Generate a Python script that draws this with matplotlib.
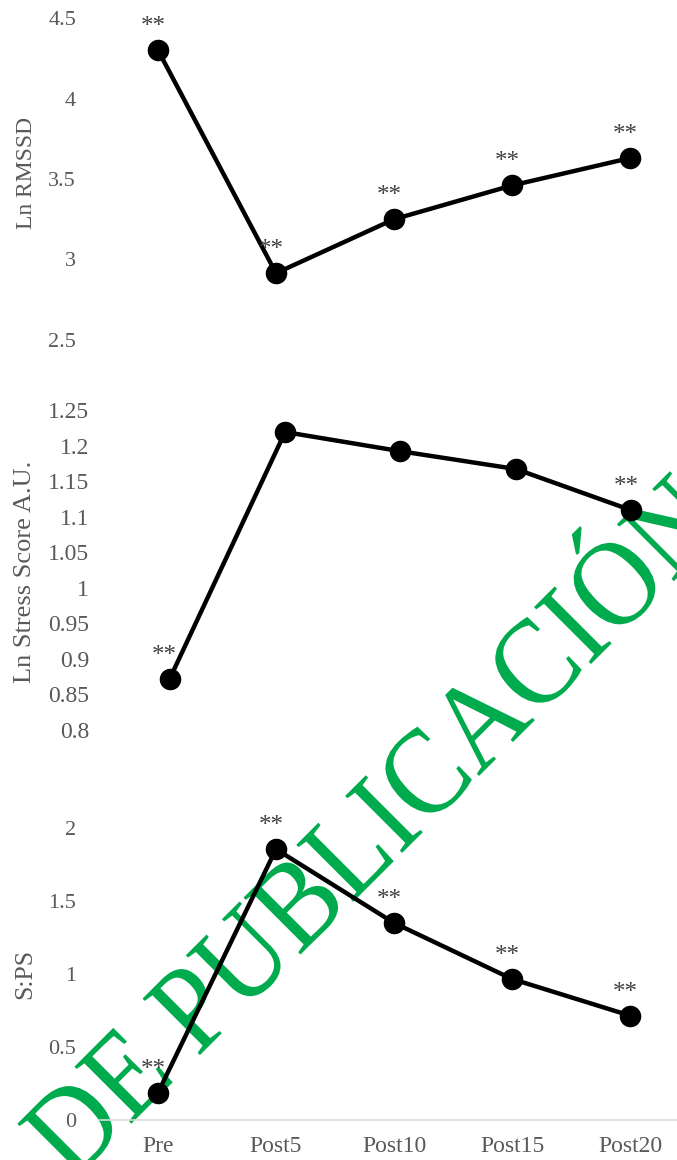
import matplotlib
matplotlib.use("Agg")
import matplotlib.pyplot as plt
from matplotlib.ticker import FuncFormatter, MultipleLocator
from matplotlib.patheffects import AbstractPathEffect
from matplotlib.transforms import Affine2D

# datos
labels = ["Pre", "Post5", "Post10", "Post15", "Post20"]
rmssd = [4.30, 2.915, 3.25, 3.46, 3.63]
stress = [0.872, 1.219, 1.192, 1.167, 1.109]
sps = [0.187, 1.855, 1.35, 0.966, 0.715]
# donde van los asteriscos
rmssd_sig = [True, True, True, True, True]
stress_sig = [True, False, False, False, True]
sps_sig = [True, True, True, True, True]

W, H = 677, 1160
gray = "#595959"
serif = ["Liberation Serif", "DejaVu Serif"]
plt.rcParams["font.family"] = serif


class Stretch(AbstractPathEffect):
    # letras un poco mas altas que anchas, como en la marca original
    def __init__(self, sy):
        super().__init__()
        self.sy = sy

    def draw_path(self, renderer, gc, tpath, affine, rgbFace=None):
        renderer.draw_path(gc, tpath, Affine2D().scale(1, self.sy) + affine, rgbFace)


fig = plt.figure(figsize=(W / 100, H / 100), dpi=100)

# marca de agua detras de las series
bg = fig.add_axes([0, 0, 1, 1], zorder=-1)
bg.axis("off")
bg.text(72 / W, 1 - 1183 / H, "DE PUBLICACIÓN", transform=bg.transAxes,
        rotation=45, rotation_mode="anchor", ha="left", va="baseline",
        fontsize=80.5, color="#00AB4E", family=serif,
        path_effects=[Stretch(1.1)])


def panel(rect, values, sig, ylim, step, ylabel, ylab_xy, ylab_fs, tick_fs,
          show_x=False):
    ax = fig.add_axes(rect)
    ax.patch.set_visible(False)
    x = list(range(len(labels)))
    ax.plot(x, values, color="black", lw=3.2, marker="o", ms=14.5,
            solid_capstyle="round", clip_on=False, zorder=3)
    for i, v in enumerate(values):
        if sig[i]:
            ax.annotate("**", (i, v), xytext=(-5, 17), textcoords="offset pixels",
                        ha="center", va="baseline", fontsize=18, color="#404040")
    ax.set_xlim(-0.5, len(labels) - 0.5)
    ax.set_ylim(*ylim)
    ax.yaxis.set_major_locator(MultipleLocator(step))
    ax.yaxis.set_major_formatter(FuncFormatter(lambda v, p: f"{round(v, 4):g}"))
    for s in ax.spines.values():
        s.set_visible(False)
    ax.tick_params(axis="y", length=0, pad=16.5, labelsize=tick_fs, labelcolor=gray)
    if show_x:
        ax.spines["bottom"].set_visible(True)
        ax.spines["bottom"].set_color("#D9D9D9")
        ax.spines["bottom"].set_linewidth(1.2)
        ax.set_xticks(x)
        ax.set_xticklabels(labels)
        ax.tick_params(axis="x", length=0, pad=11.5, labelsize=17, labelcolor=gray)
    else:
        ax.set_xticks([])
    fig.text(ylab_xy[0] / W, 1 - ylab_xy[1] / H, ylabel, rotation=90,
             ha="center", va="center", fontsize=ylab_fs, color=gray)
    return ax


panel([99 / W, 1 - 340 / H, 590 / W, 322 / H], rmssd, rmssd_sig,
      (2.5, 4.5), 0.5, "Ln RMSSD", (27, 173), 17, 16)
panel([112 / W, 1 - 730 / H, 577 / W, 320 / H], stress, stress_sig,
      (0.8, 1.25), 0.05, "Ln Stress Score A.U.", (25, 572), 19, 17)
panel([99 / W, 1 - 1120 / H, 590 / W, 292 / H], sps, sps_sig,
      (0, 2), 0.5, "S:PS", (25, 974), 18.5, 16, show_x=True)

fig.savefig("out.png", dpi=100, facecolor="white")
